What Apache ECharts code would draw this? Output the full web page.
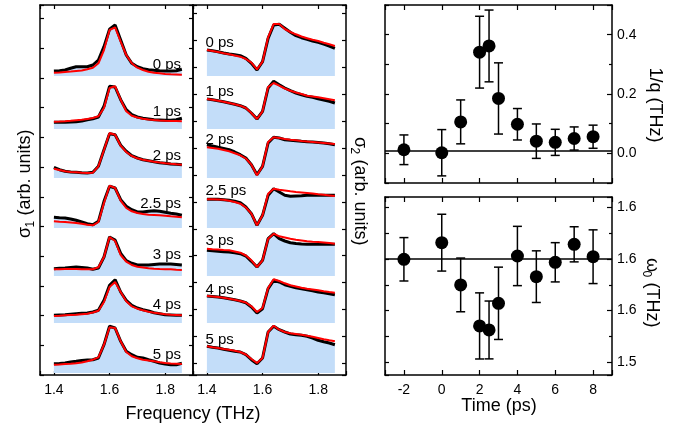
<!DOCTYPE html>
<html><head><meta charset="utf-8">
<script src="https://cdn.jsdelivr.net/npm/echarts@6/dist/echarts.min.js"></script>
<style>html,body{margin:0;padding:0;background:#fff}#c{width:683px;height:431px}</style>
</head><body><div id="c"></div>
<script>
// ---------------- data ----------------
const freq = [1.40,1.42,1.44,1.46,1.48,1.50,1.52,1.54,1.56,1.58,1.60,1.62,1.64,1.66,1.68,1.70,1.72,1.74,1.76,1.78,1.80,1.82,1.84,1.86];
const delayLabels = ['0 ps','1 ps','2 ps','2.5 ps','3 ps','4 ps','5 ps'];
// vertical offsets of each spectrum (arb. units)
const bandOffsets = [299, 246, 197, 147, 99, 52, 2];

// sigma_1 measured (black)
const s1_0 = [5,5.3,6,7.7,9.3,9.3,9.3,11,16,29.3,46.7,51,36,21,12.7,9.3,7.3,6.3,5.7,5.3,5,5,5.3,6.7];
const s1_1 = [6.7,6.7,6.7,7,7.3,8,9.3,10.3,12,22.7,42.7,42,29.3,19.3,14.3,12,10.7,10,9.3,9,8.7,8.7,9.3,10.7];
const s1_2 = [10.7,8.3,6.7,6,5.7,5.3,5,5.7,11.7,28.3,44.3,43.3,32.7,26.7,22.3,20,18.3,17.3,16.3,15.3,14.7,14,13.7,13.3];
const s1_25 = [10.7,10.3,10,9,7.7,6,4.3,3.3,6.7,26.7,41.7,40,28.3,21.7,18.3,16,16,16.7,17.3,16.7,15.7,14.7,14,12.7];
const s1_3 = [7.3,7.7,8,8.5,9,8.5,8,6.7,8,19,39,36,22.7,15.3,12.7,11,11,11,11.5,12,12,12,11.5,11];
const s1_4 = [7.7,8,8.3,8.8,9.3,9.7,10,11,12.7,22.7,37.7,43.3,31,22.7,17.7,15,13.3,12,10.3,9.3,8.3,8,7.7,7.7];
const s1_5 = [9.3,9.6,10,11,11.7,12.5,13,13.3,15,28.3,46.7,45,31.7,21.7,18.3,15.7,15,13.3,11.7,10,9,8.3,8.3,9.7];
// sigma_1 fits (red)
const f1_0 = [3.3,3.5,4,4.4,5,5.5,6.7,8.3,12.7,26,46,48.7,34.3,21,12.7,8.3,6,4.3,3.3,2.7,2,1.7,1.5,1.3];
const f1_1 = [7.3,7.5,7.8,8.2,8.7,9.2,10,11,12.7,21,41,42.7,29.3,17.7,13.3,11.5,10.3,9.6,9,8.6,8.3,8.1,7.9,7.7];
const f1_2 = [9.3,8,6.7,6,5.7,5.3,5,5.3,11.7,28,45,43.3,32.3,26,22,19.7,18.3,17.3,16.3,15.5,14.8,14.2,13.7,13.3];
const f1_25 = [6.7,6.3,6,5.5,5,4.2,3.3,2.7,6,25,42.3,40,27.3,20,16.7,15,14,13.3,13,12.7,12.3,11.7,11.2,10.7];
const f1_3 = [6.7,6.8,7,7,7,6.8,6.7,6.7,8.7,19,39,35,21,14.3,11,9.3,8.5,7.7,7.3,7,6.8,6.7,6.3,6];
const f1_4 = [7,7.3,7.7,8,8.3,8.8,9.3,10.5,12.3,21,36,41,31,21.7,16.7,14.3,12.7,11.3,10.3,9.5,8.7,8.3,8,7.7];
const f1_5 = [8.3,8.6,9,9.3,9.7,10.5,11.7,13.3,15.7,28.3,45.7,45,31.7,21,16.7,14.8,13.3,12.5,11.7,10.8,10,9.6,9.3,9];

// sigma_2 measured (black)
const s2_0 = [26,25.2,24.3,23,22,21.2,20.3,17.7,12.7,6,14.3,37.7,51,51.7,47.7,43.7,40.3,38.3,36.7,35,33.7,32,30,27.7];
const s2_1 = [30,29.2,28.3,27.2,26,24.7,23.3,21,16,10,17.7,41,47.7,44.3,41,38.3,36,34.3,32.7,31.7,30.3,29,27.7,26];
const s2_2 = [33.3,32,30.7,29.5,28.3,26,23.3,20,13.3,3.3,11.7,35,40.7,40,38.3,37.7,37.2,36.7,36.3,36,35.5,35,34.2,33.3];
const s2_25 = [28.7,28.7,28.7,28.3,27.7,26.7,25.3,21,14.3,2.7,12.7,32.7,39.3,36,32.7,31.7,32,32.3,32.7,32.7,32.7,32.7,32.7,32.7];
const s2_3 = [25.7,25.2,24.7,24.3,24,23.2,22.3,20,14.7,9,15.7,37.3,42.3,37.3,35,33.3,32.5,32,31.7,31.7,31.7,31.7,31.7,31.7];
const s2_4 = [27,26.5,26,25.2,24.3,23.2,22,20.3,16,10,14.3,34.3,42.7,41,38.3,36.7,35.3,34.3,33.3,32.3,31,30.2,29.3,28.3];
const s2_5 = [26.7,25.8,25,23.8,22.7,21.8,21,18.3,13.3,9.3,15,41,46.7,43.3,41,39,38.3,37.7,36.7,35,32.7,31.3,30,28.3];
// sigma_2 fits (red)
const f2_0 = [26,25,24,22.8,21.7,20.5,19.3,17,13.3,6.7,14.3,38.7,52,52,47,44,41.7,39.5,37.7,36.3,35,33.3,31.7,30];
const f2_1 = [30,29.2,28.3,27.2,26,24.7,23.3,21,16,10,17.7,42,46,43.3,40.5,38.3,36.5,35,33.3,32.5,31.7,30.7,29.7,28.7];
const f2_2 = [30.7,30,29.3,28,26.7,24.7,22.7,19.5,13.3,2.7,11.7,36,40.7,40,39,38.3,37.7,37,36.5,36,35.5,35,34.5,34];
const f2_25 = [28.7,28.7,28.6,28.3,27.3,26,24.3,20.5,14.3,2.7,12.7,34.3,39.3,38.3,37.5,36.7,36,35.5,35,34.5,33.7,33.2,32.6,32];
const f2_3 = [27.3,26.8,26.5,26,25.7,24.5,23.3,20.5,15.7,9,15.7,37.3,42.3,39.7,38.5,37.3,36.3,35.5,34.7,34.3,34,33.5,33,32.3];
const f2_4 = [27,26.5,26,25.2,24.3,23.2,22,20.5,16.7,11,15,35,43.7,42,39.7,37.7,36.5,35.3,34.3,33.5,32.7,31.8,31,30.3];
const f2_5 = [26.7,25.8,25,24.1,23.3,22.3,21,18.5,14,10,15,41,47.3,43.3,41,39.7,39,38.2,37.3,36.2,35,33.8,32.7,31.7];

// fit parameters vs delay
const times = [-2,0,1,2,2.5,3,4,5,6,7,8];
const invQ = [0.012,0.002,0.106,0.341,0.362,0.185,0.098,0.041,0.037,0.050,0.056];
const invQErr = [0.050,0.078,0.074,0.121,0.121,0.120,0.053,0.058,0.044,0.039,0.039];
const omega0 = [1.5997,1.6158,1.5749,1.5352,1.5313,1.5571,1.6029,1.5829,1.5968,1.6142,1.6022];
const omega0Err = [0.021,0.0275,0.026,0.032,0.028,0.035,0.0287,0.025,0.019,0.017,0.026];
const invQRef = 0.012;
const omega0Ref = 1.60;

// tick labels
const freqTickValues = [1.4,1.6,1.8];
const freqTickLabels = ['1.4','1.6','1.8'];
const timeTickValues = [-2,0,2,4,6,8];
const timeTickLabels = ['-2','0','2','4','6','8'];
const invQTickValues = [0,0.2,0.4];
const invQTickLabels = ['0.0','0.2','0.4'];
const omegaTickValues = [1.5,1.55,1.6,1.65];
const omegaTickLabels = ['1.5','1.6','1.6','1.6'];

// ---------------- chart ----------------
const FONT = '"Liberation Sans", Arial, Helvetica, sans-serif';
const FILL = '#c3ddf9';
const sig1Meas = [s1_0,s1_1,s1_2,s1_25,s1_3,s1_4,s1_5];
const sig1Fit = [f1_0,f1_1,f1_2,f1_25,f1_3,f1_4,f1_5];
const sig2Meas = [s2_0,s2_1,s2_2,s2_25,s2_3,s2_4,s2_5];
const sig2Fit = [f2_0,f2_1,f2_2,f2_25,f2_3,f2_4,f2_5];

function lbl(values, labels){
  return function(v){
    const i = values.findIndex(t => Math.abs(t - v) < 1e-6);
    return i >= 0 ? labels[i] : '';
  };
}
const axLine = {show:true, onZero:false, lineStyle:{color:'#000', width:1.5}};
function tick(len){ return {show:true, inside:true, length:len, lineStyle:{color:'#000', width:1.2}}; }
const noLabel = {show:false};
const labStyle = {color:'#000', fontSize:14, fontFamily:FONT};

const xAxis = [];
const yAxis = [];
// grids 0,1 : spectra
for (let g = 0; g < 2; g++) {
  xAxis.push({gridIndex:g, type:'value', position:'bottom', min:1.35, max:1.90, splitNumber:3,
    axisLine:axLine, axisTick:tick(4), splitLine:{show:false},
    axisLabel:Object.assign({margin:8, formatter:lbl(freqTickValues,freqTickLabels)}, labStyle)});
  xAxis.push({gridIndex:g, type:'value', position:'top', min:1.35, max:1.90, splitNumber:3,
    axisLine:axLine, axisTick:tick(4), splitLine:{show:false}, axisLabel:noLabel});
}
// grids 2,3 : time
for (let g = 2; g < 4; g++) {
  xAxis.push({gridIndex:g, type:'value', position:'bottom', min:-3, max:9, splitNumber:6,
    axisLine:axLine, axisTick:tick(5), splitLine:{show:false},
    axisLabel: g === 3 ? Object.assign({margin:8, formatter:lbl(timeTickValues,timeTickLabels)}, labStyle) : noLabel});
  xAxis.push({gridIndex:g, type:'value', position:'top', min:-3, max:9, splitNumber:6,
    axisLine:axLine, axisTick:tick(5), splitLine:{show:false}, axisLabel:noLabel});
}
// y axes
yAxis.push({gridIndex:0, type:'value', min:0, max:370, show:false});
yAxis.push({gridIndex:0, type:'value', position:'left', min:0, max:12.46, interval:1,
  axisLine:axLine, axisTick:tick(4), splitLine:{show:false}, axisLabel:noLabel});
yAxis.push({gridIndex:0, type:'value', position:'right', min:0, max:12.46, interval:1,
  axisLine:axLine, axisTick:tick(4), splitLine:{show:false}, axisLabel:noLabel});
yAxis.push({gridIndex:1, type:'value', min:0, max:370, show:false});
yAxis.push({gridIndex:1, type:'value', position:'left', min:-0.435, max:13.32, splitNumber:13,
  axisLine:axLine, axisTick:tick(4), splitLine:{show:false}, axisLabel:noLabel});
yAxis.push({gridIndex:1, type:'value', position:'right', min:-0.435, max:13.32, splitNumber:13,
  axisLine:axLine, axisTick:tick(4), splitLine:{show:false}, axisLabel:noLabel});
yAxis.push({gridIndex:2, type:'value', position:'left', min:-0.1, max:0.5, interval:0.1,
  axisLine:axLine, axisTick:tick(4), splitLine:{show:false}, axisLabel:noLabel});
yAxis.push({gridIndex:2, type:'value', position:'right', min:-0.1, max:0.5, splitNumber:3,
  axisLine:axLine, axisTick:tick(5), splitLine:{show:false},
  minorTick:{show:true, splitNumber:2, length:3, lineStyle:{color:'#000', width:1.2}},
  axisLabel:Object.assign({margin:5, formatter:lbl(invQTickValues,invQTickLabels)}, labStyle)});
yAxis.push({gridIndex:3, type:'value', position:'left', min:1.4877, max:1.66, splitNumber:4,
  axisLine:axLine, axisTick:tick(4), splitLine:{show:false},
  minorTick:{show:true, splitNumber:2, length:4, lineStyle:{color:'#000', width:1.2}}, axisLabel:noLabel});
yAxis.push({gridIndex:3, type:'value', position:'right', min:1.4877, max:1.66, splitNumber:4,
  axisLine:axLine, axisTick:tick(5), splitLine:{show:false},
  minorTick:{show:true, splitNumber:2, length:3, lineStyle:{color:'#000', width:1.2}},
  axisLabel:Object.assign({margin:5, formatter:lbl(omegaTickValues,omegaTickLabels)}, labStyle)});

const series = [];
function addBands(xIdx, yIdx, meas, fit){
  for (let i = 0; i < meas.length; i++) {
    const off = bandOffsets[i];
    const m = freq.map((f,k) => [f, meas[i][k] + off]);
    const ft = freq.map((f,k) => [f, fit[i][k] + off]);
    series.push({type:'line', xAxisIndex:xIdx, yAxisIndex:yIdx, data:m, symbol:'none', silent:true, z:1,
      lineStyle:{width:0, opacity:0}, areaStyle:{color:FILL, opacity:1, origin:off}});
    series.push({type:'line', xAxisIndex:xIdx, yAxisIndex:yIdx, data:m, symbol:'none', silent:true, z:2,
      lineStyle:{color:'#000', width:3}});
    series.push({type:'line', xAxisIndex:xIdx, yAxisIndex:yIdx, data:ft, symbol:'none', silent:true, z:3,
      lineStyle:{color:'#ff0000', width:2}});
  }
}
addBands(0, 0, sig1Meas, sig1Fit);
addBands(2, 3, sig2Meas, sig2Fit);

function errSeries(xIdx, yIdx, vals, errs){
  return {type:'custom', xAxisIndex:xIdx, yAxisIndex:yIdx, silent:true, z:4,
    data: times.map((t,i) => [t, vals[i], errs[i]]),
    renderItem: function(params, api){
      const x = api.value(0), y = api.value(1), e = api.value(2);
      const top = api.coord([x, y + e]);
      const bot = api.coord([x, y - e]);
      const w = 4.5;
      const st = {stroke:'#000', lineWidth:1.5};
      return {type:'group', children:[
        {type:'line', shape:{x1:top[0], y1:top[1], x2:bot[0], y2:bot[1]}, style:st},
        {type:'line', shape:{x1:top[0]-w, y1:top[1], x2:top[0]+w, y2:top[1]}, style:st},
        {type:'line', shape:{x1:bot[0]-w, y1:bot[1], x2:bot[0]+w, y2:bot[1]}, style:st}
      ]};
    }};
}
function dotSeries(xIdx, yIdx, vals, ref){
  return {type:'scatter', xAxisIndex:xIdx, yAxisIndex:yIdx, silent:true, z:5,
    data: times.map((t,i) => [t, vals[i]]), symbol:'circle', symbolSize:13,
    itemStyle:{color:'#000', opacity:1},
    markLine:{silent:true, symbol:'none', label:{show:false}, animation:false,
      lineStyle:{color:'#000', width:1.5, type:'solid', opacity:1}, data:[{yAxis:ref}]}};
}
series.push(errSeries(4, 7, invQ, invQErr));
series.push(dotSeries(4, 7, invQ, invQRef));
series.push(errSeries(6, 9, omega0, omega0Err));
series.push(dotSeries(6, 9, omega0, omega0Ref));

// text annotations
const graphic = [];
const leftLabelY = [65, 112, 155.5, 203.5, 255, 305, 355];
const midLabelY = [42.5, 92, 140, 191, 241, 289.5, 339.5];
delayLabels.forEach((t,i) => {
  graphic.push({type:'text', x:181, y:leftLabelY[i], silent:true,
    style:{text:t, fill:'#000', font:'15px ' + FONT, align:'right', verticalAlign:'middle'}});
  graphic.push({type:'text', x:205.5, y:midLabelY[i], silent:true,
    style:{text:t, fill:'#000', font:'15px ' + FONT, align:'left', verticalAlign:'middle'}});
});
function subLabel(cx, cy, rot, main, sub, rest, mainW, subW){
  return {type:'group', x:cx, y:cy, rotation:rot, silent:true, children:[
    {type:'text', x:0, y:0, style:{text:main, fill:'#000', font:'18px ' + FONT, align:'left', verticalAlign:'middle'}},
    {type:'text', x:mainW, y:6, style:{text:sub, fill:'#000', font:'12px ' + FONT, align:'left', verticalAlign:'middle'}},
    {type:'text', x:mainW + subW, y:0, style:{text:rest, fill:'#000', font:'18px ' + FONT, align:'left', verticalAlign:'middle'}}
  ]};
}
graphic.push(subLabel(25, 238, Math.PI/2, 'σ', '1', ' (arb. units)', 10.5, 7));
graphic.push(subLabel(360, 137, -Math.PI/2, 'σ', '2', ' (arb. units)', 10.5, 7));
graphic.push(subLabel(652, 258, -Math.PI/2, 'ω', '0', ' (THz)', 12.5, 7));
graphic.push({type:'text', x:655, y:105, rotation:-Math.PI/2, silent:true,
  style:{text:'1/q (THz)', fill:'#000', font:'18px ' + FONT, align:'center', verticalAlign:'middle'}});
graphic.push({type:'text', x:193, y:414, silent:true,
  style:{text:'Frequency (THz)', fill:'#000', font:'18px ' + FONT, align:'center', verticalAlign:'middle'}});
graphic.push({type:'text', x:499, y:406, silent:true,
  style:{text:'Time (ps)', fill:'#000', font:'18px ' + FONT, align:'center', verticalAlign:'middle'}});

const option = {
  animation:false,
  backgroundColor:'#fff',
  grid:[
    {left:40, top:5, width:153, height:370},
    {left:193, top:5, width:153, height:370},
    {left:385, top:5, width:227, height:178},
    {left:385, top:197, width:227, height:178}
  ],
  xAxis:xAxis, yAxis:yAxis, series:series, graphic:graphic
};
const chart = echarts.init(document.getElementById('c'), null, {renderer:'canvas'});
chart.setOption(option);
</script></body></html>
